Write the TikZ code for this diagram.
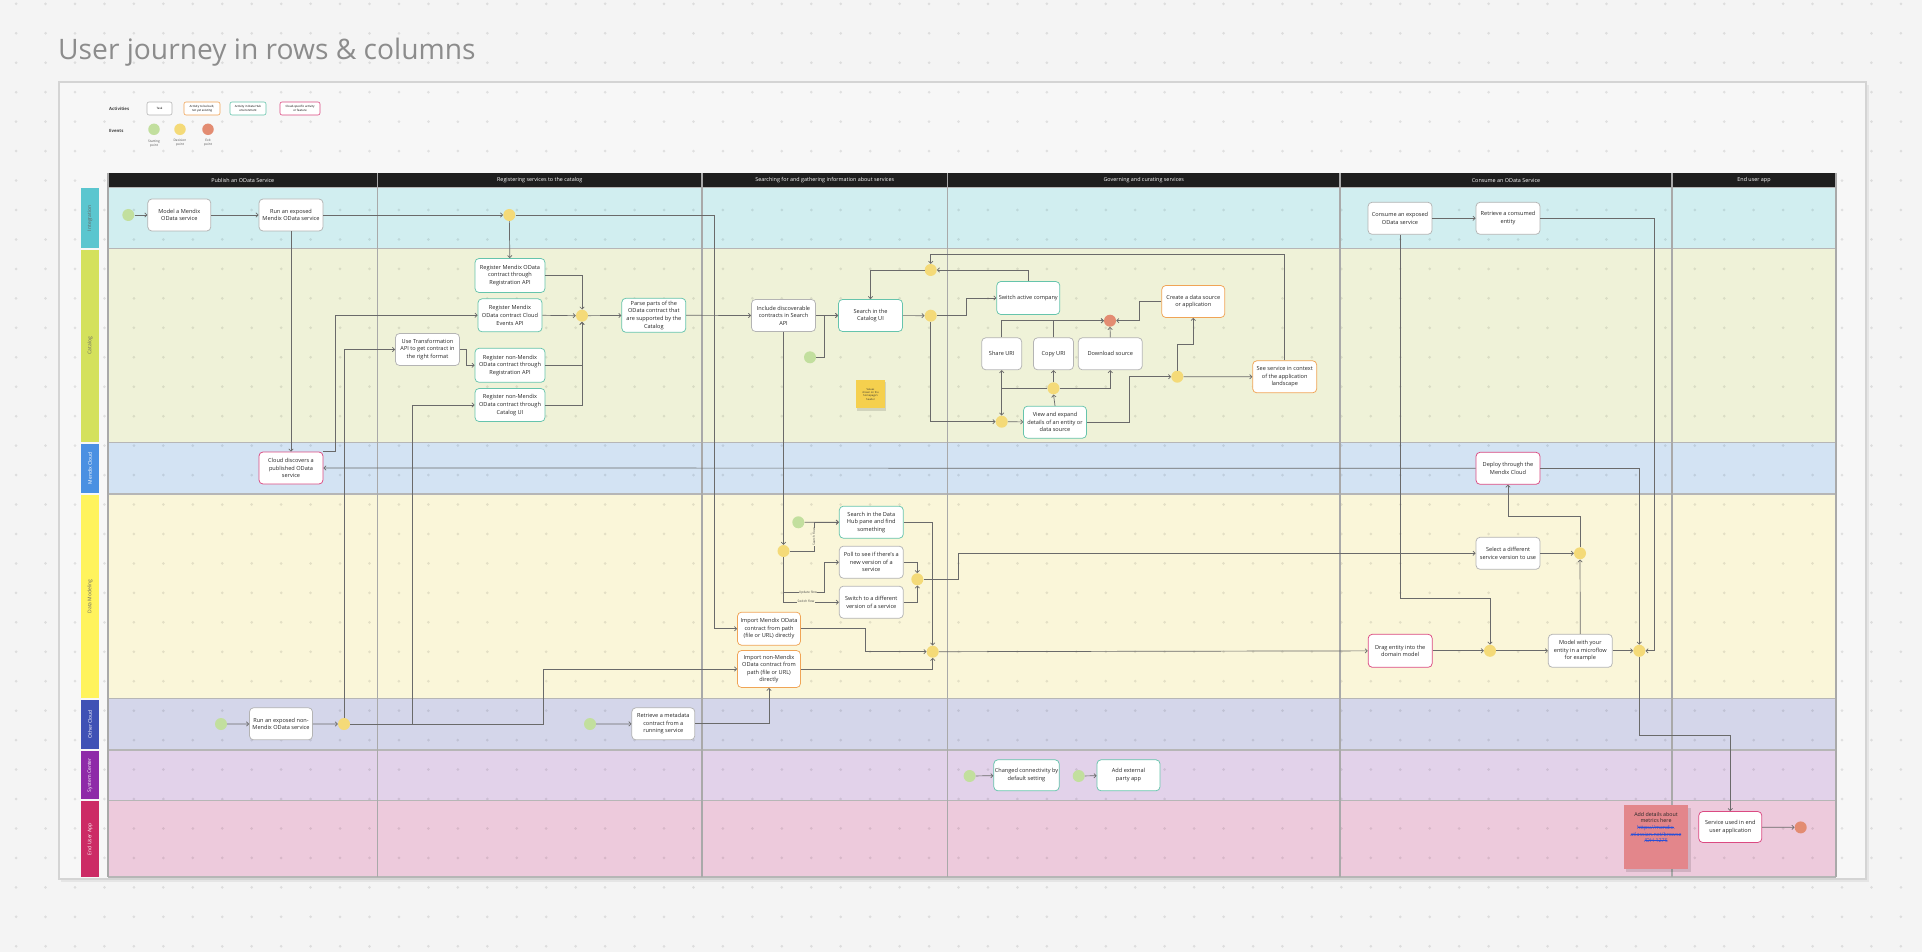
\documentclass[tikz,border=0pt]{standalone}
\usepackage{fontspec}
\setmainfont{Open Sans}
\usetikzlibrary{arrows.meta}

\definecolor{bgcol}{HTML}{F4F4F4}
\definecolor{framebg}{HTML}{F7F7F7}
\definecolor{titlegray}{HTML}{8C8C8C}
\definecolor{headbar}{HTML}{1E1E1E}
\definecolor{gridgray}{HTML}{A9A9A9}
\definecolor{linegray}{HTML}{6A6A6A}
\definecolor{taskgray}{HTML}{B4B4B4}
\definecolor{actorange}{HTML}{F0A456}
\definecolor{actteal}{HTML}{66C4AC}
\definecolor{actpink}{HTML}{DB4A82}
\definecolor{evgreen}{HTML}{C2DF9E}
\definecolor{evyellow}{HTML}{F4DA78}
\definecolor{evred}{HTML}{E38C72}
\definecolor{laneA}{HTML}{D1EEF0}
\definecolor{laneB}{HTML}{EFF2D8}
\definecolor{laneC}{HTML}{D3E3F3}
\definecolor{laneD}{HTML}{FAF6D9}
\definecolor{laneE}{HTML}{D4D6EA}
\definecolor{laneF}{HTML}{E2D2EA}
\definecolor{laneG}{HTML}{EDCADC}
\definecolor{tagA}{HTML}{5BC6CF}
\definecolor{tagB}{HTML}{D4E15C}
\definecolor{tagC}{HTML}{4A90E2}
\definecolor{tagD}{HTML}{FFF35C}
\definecolor{tagE}{HTML}{3F51B5}
\definecolor{tagF}{HTML}{8E2AA8}
\definecolor{tagG}{HTML}{CC2B65}
\definecolor{stickyyellow}{HTML}{F5D04E}
\definecolor{stickypink}{HTML}{E3868B}
\definecolor{linkblue}{HTML}{2A4FD6}

\newcommand\bxfont{\fontsize{5.6}{7.6}\selectfont}
\newcommand\hdfont{\fontsize{5.4}{6}\selectfont}
\newcommand\lanefont{\fontsize{5}{6}\selectfont}
\newcommand\tnyfont{\fontsize{3.2}{3.8}\selectfont}
\newcommand\lgfont{\fontsize{2.9}{3.6}\selectfont}

\tikzset{
  box/.style={draw, fill=white, rounded corners=4pt, line width=0.75pt, align=center,
    inner sep=1pt, minimum width=64pt, minimum height=32pt, font=\bxfont, text=black!85},
  task/.style={box, draw=taskgray},
  newact/.style={box, draw=actorange},
  hubact/.style={box, draw=actteal},
  cloudact/.style={box, draw=actpink},
  lgbox/.style={draw, fill=white, rounded corners=2pt, line width=0.6pt, align=center,
    inner sep=0.5pt, minimum height=13pt, font=\lgfont},
  startpt/.style={circle, fill=evgreen, minimum size=12pt, inner sep=0pt},
  decpt/.style={circle, fill=evyellow, minimum size=12pt, inner sep=0pt},
  exitpt/.style={circle, fill=evred, minimum size=12pt, inner sep=0pt},
  conn/.style={draw=linegray, line width=0.7pt, -{Straight Barb[length=2.2pt,width=4.4pt]}},
  flowlabel/.style={font=\tnyfont, fill=laneD, inner sep=0.4pt, text=black!70},
  lanetag/.style={rotate=90, font=\lanefont},
  headtext/.style={font=\hdfont, text=white},
}

\begin{document}
\begin{tikzpicture}[x=1pt,y=-1pt]
\fill[bgcol] (0,0) rectangle (1922,952);
\useasboundingbox (0,0) rectangle (1922,952);

% title
\node[anchor=base west, inner sep=0pt, font=\fontsize{28.2}{30}\selectfont, text=titlegray] (title) at (58,60) {User journey in rows \& columns};

% board
\fill[black!10] (61,85) rectangle (1869,882);
\draw[fill=framebg, draw=black!17, line width=1.2pt] (59,82) rectangle (1866,879);

% lanes
\fill[laneA] (108,187.5) rectangle (1836,248.8);
\fill[laneB] (108,248.8) rectangle (1836,442.5);
\fill[laneC] (108,442.5) rectangle (1836,494);
\fill[laneD] (108,494) rectangle (1836,698.7);
\fill[laneE] (108,698.7) rectangle (1836,750);
\fill[laneF] (108,750) rectangle (1836,800.4);
\fill[laneG] (108,800.4) rectangle (1836,877);

% dotted board grid
\foreach \i in {-2,...,63} {
  \foreach \j in {-1,...,31} {
    \fill[black, fill opacity=0.09] (75+29.45*\i, 33.3+29.45*\j) circle (1.5pt);
  }
}

% header bar
\fill[headbar] (108,173) rectangle (1836,187.5);
\node[headtext] (h1) at (242.75,180.2) {Publish an OData Service};
\node[headtext] (h2) at (539.75,180.2) {Registering services to the catalog};
\node[headtext] (h3) at (824.75,180.2) {Searching for and gathering information about services};
\node[headtext] (h4) at (1143.75,180.2) {Governing and curating services};
\node[headtext] (h5) at (1506,180.2) {Consume an OData Service};
\node[headtext] (h6) at (1754,180.2) {End user app};

% lane borders and column rules
\foreach \y in {187.5,248.8,442.5,494,698.7,750,800.4,877}
  \draw[gridgray!85, line width=1.1pt] (108,\y) -- (1836,\y);
\foreach \x in {108,377.5,702,947.5,1340,1672,1836}
  \draw[gridgray, line width=1.2pt] (\x,173) -- (\x,877);

% lane tags
\fill[tagA] (81,188.5) rectangle (99,247.8);
\fill[tagB] (81,249.8) rectangle (99,441.5);
\fill[tagC] (81,443.5) rectangle (99,493);
\fill[tagD] (81,495) rectangle (99,697.7);
\fill[tagE] (81,699.7) rectangle (99,749);
\fill[tagF] (81,751) rectangle (99,799.4);
\fill[tagG] (81,801.4) rectangle (99,877);
\node[lanetag, text=black!60] (tA) at (90,218.2) {Integration};
\node[lanetag, text=black!60] (tB) at (90,345.6) {Catalog};
\node[lanetag, text=white] (tC) at (90,468.2) {Mendix Cloud};
\node[lanetag, text=black!60] (tD) at (90,596.3) {Data Modeling};
\node[lanetag, text=white] (tE) at (90,724.3) {Other Cloud};
\node[lanetag, text=white] (tF) at (90,775.2) {System Center};
\node[lanetag, text=white] (tG) at (90,839.2) {End User App};

% legend
\node[anchor=west, inner sep=0pt, font=\fontsize{4.3}{5}\selectfont\bfseries, text=black!75] (lgA) at (109,108.5) {Activities};
\node[anchor=west, inner sep=0pt, font=\fontsize{4.3}{5}\selectfont\bfseries, text=black!75] (lgE) at (109,130.5) {Events};
\node[lgbox, draw=taskgray, minimum width=25pt] (lg1) at (159.5,108.5) {Task};
\node[lgbox, draw=actorange, minimum width=36pt] (lg2) at (202,108.5) {Activity to be built,\\not yet existing};
\node[lgbox, draw=actteal, minimum width=36pt] (lg3) at (248,108.5) {Activity in Data Hub\\environment};
\node[lgbox, draw=actpink, minimum width=40pt] (lg4) at (300,108.5) {Cloud-specific activity\\or feature};
\node[startpt, minimum size=11.5pt] (lgs) at (154,129.3) {};
\node[decpt, minimum size=11.5pt] (lgd) at (180,129.3) {};
\node[exitpt, minimum size=11.5pt] (lgx) at (208,129.3) {};
\node[font=\tnyfont, align=center, text=black!70] (lgs2) at (154,143.5) {Starting\\point};
\node[font=\tnyfont, align=center, text=black!70] (lgd2) at (180,143) {Decision\\point};
\node[font=\tnyfont, align=center, text=black!70] (lgx2) at (208,143) {Exit\\point};

% ---------------- nodes ----------------
% Integration
\node[startpt] (s1) at (128.3,215) {};
\node[task, minimum width=63pt] (n1) at (179.3,215) {Model a Mendix\\OData service};
\node[task] (n2) at (291,215) {Run an exposed\\Mendix OData service};
\node[decpt] (d0) at (509.3,215) {};
\node[task] (c1) at (1400,218.3) {Consume an exposed\\OData service};
\node[task] (c2) at (1508,218.3) {Retrieve a consumed\\entity};

% Catalog
\node[hubact, minimum width=70pt, minimum height=34pt] (r1) at (510,275.5) {Register Mendix OData\\contract through\\Registration API};
\node[hubact, minimum height=33pt] (r2) at (510,315.3) {Register Mendix\\OData contract Cloud\\Events API};
\node[task] (ut) at (427.5,349.5) {Use Transformation\\API to get contract in\\the right format};
\node[hubact, minimum width=70pt, minimum height=34pt] (r3) at (510,365.3) {Register non-Mendix\\OData contract through\\Registration API};
\node[hubact, minimum width=70pt, minimum height=33pt] (r4) at (510,405) {Register non-Mendix\\OData contract through\\Catalog UI};
\node[decpt] (dr) at (582,315.7) {};
\node[hubact, minimum height=34pt] (pp) at (653.8,315.3) {Parse parts of the\\OData contract that\\are supported by the\\Catalog};
\node[task] (inc) at (783.5,315.5) {Include discoverable\\contracts in Search\\API};
\node[startpt] (s2) at (810,357.3) {};
\node[hubact] (sc) at (870.5,315.5) {Search in the\\Catalog UI};
\node[decpt] (dt) at (930.7,270) {};
\node[decpt] (dm) at (930.7,315.7) {};
\node[hubact, minimum width=63pt, minimum height=33pt] (sw) at (1028.3,298) {Switch active company};
\node[exitpt] (ex1) at (1110,320.7) {};
\node[task, minimum width=40pt] (su) at (1001.7,353.8) {Share URI};
\node[task, minimum width=40pt] (cu) at (1053.5,353.8) {Copy URI};
\node[task] (dsrc) at (1110.3,353.8) {Download source};
\node[newact, minimum width=63pt] (cr) at (1193.3,301.5) {Create a data source\\or application};
\node[newact] (ss) at (1284.7,376.8) {See service in context\\of the application\\landscape};
\node[decpt] (dv) at (1053.5,388.3) {};
\node[decpt] (dl) at (1001.7,421.7) {};
\node[hubact, minimum width=63pt] (vw) at (1055,422.2) {View and expand\\details of an entity or\\data source};
\node[decpt] (dk) at (1177.3,376.7) {};

% sticky note in the catalog lane
\fill[black, fill opacity=0.12] (857,382) rectangle (886,410.5);
\node[fill=stickyyellow, minimum width=29pt, minimum height=28.3pt, inner sep=0pt, align=center, font=\fontsize{2.6}{3.3}\selectfont, text=black!80] (note1) at (870.5,394.2) {Values\\shown on the\\homepage's\\header};

% Mendix Cloud
\node[cloudact] (cd) at (291,468) {Cloud discovers a\\published OData\\service};
\node[cloudact] (dp) at (1508,468.3) {Deploy through the\\Mendix Cloud};

% Data Modeling
\node[decpt] (dy) at (783.5,551) {};
\node[startpt] (s3) at (798.3,522.3) {};
\node[hubact] (sh) at (871.3,522.2) {Search in the Data\\Hub pane and find\\something};
\node[task] (pl) at (871.3,562.2) {Poll to see if there's a\\new version of a\\service};
\node[task] (swv) at (871.3,602.2) {Switch to a different\\version of a service};
\node[decpt] (dq) at (917.3,579.3) {};
\node[newact, minimum width=63pt, minimum height=33pt] (im) at (769,628.7) {Import Mendix OData\\contract from path\\(file or URL) directly};
\node[newact, minimum width=63pt, minimum height=37pt] (inm) at (769,669) {Import non-Mendix\\OData contract from\\path (file or URL)\\directly};
\node[decpt] (dj) at (932.7,651.7) {};
\node[task] (se) at (1508,553.3) {Select a different\\service version to use};
\node[decpt] (dse) at (1580,553.3) {};
\node[cloudact, minimum height=33pt] (dg) at (1400.2,650.8) {Drag entity into the\\domain model};
\node[decpt] (dd) at (1490,650.8) {};
\node[task, minimum height=33pt] (mw) at (1580.3,650.8) {Model with your\\entity in a microflow\\for example};
\node[decpt] (df) at (1639.3,650.8) {};

% Other Cloud
\node[startpt] (s4) at (221,724) {};
\node[task, minimum width=63pt] (ro) at (281,723.8) {Run an exposed non-\\Mendix OData service};
\node[decpt] (do) at (344,724) {};
\node[startpt] (s5) at (590,724) {};
\node[task, minimum width=63pt] (rm) at (663.3,723.8) {Retrieve a metadata\\contract from a\\running service};

% System Center
\node[startpt] (s6) at (969.6,776) {};
\node[hubact, minimum width=63pt, minimum height=31pt] (cc) at (1026.5,775.3) {Changed connectivity by\\default setting};
\node[startpt] (s7) at (1078.7,776) {};
\node[hubact, minimum width=63pt, minimum height=31pt] (ae) at (1128.5,775.3) {Add external\\party app};

% End User App
\fill[black, fill opacity=0.12] (1626,808) rectangle (1691,872);
\node[fill=stickypink, minimum width=64pt, minimum height=64pt, inner sep=1pt] (note2) at (1656,837) {};
\node[anchor=north, inner sep=0pt, align=center, font=\fontsize{5.3}{6.6}\selectfont, text=black!85] (note2t) at (1656,812) {Add details about\\metrics here\\{\color{linkblue}https://mendix.}\\{\color{linkblue}atlassian.net/browse}\\{\color{linkblue}/DH-1275}};
\draw[linkblue, line width=0.3pt] (1638,827.2) -- (1674,827.2) (1631,833.8) -- (1681,833.8) (1645,840.4) -- (1667,840.4);
\node[cloudact, minimum width=63pt, minimum height=31pt] (su2) at (1730.3,827) {Service used in end\\user application};
\node[exitpt] (ex2) at (1800.7,827.4) {};

% ---------------- connectors ----------------
\draw[conn] (s1) -- (n1);
\draw[conn] (n1) -- (n2);
\draw[conn] (n2) -- (d0);
\draw[conn] (d0) -- (r1);
\draw[conn] (d0.east) -- (714.3,215) |- (im.west);
\draw[conn] (n2.south) -- (cd.north);
\draw[conn] (cd.north east) -| (335.3,315.3) -- (r2.west);
\draw[conn] (dp.west) -- (cd.east);

\draw[conn] (s4) -- (ro);
\draw[conn] (ro) -- (do);
\draw[conn] (do.north) |- (ut.west);
\draw[conn] (do.east) -- (412.3,724) |- (r4.west);
\draw[conn] (do.east) -- (543.3,724) |- (inm.west);
\draw[conn] (s5) -- (rm);
\draw[conn] (rm.east) -| (inm.south);

\draw[conn] (ut.east) -- (466.7,349.5) |- (r3.west);
\draw[conn] (r1.east) -| (dr.north);
\draw[conn] (r2.east) -- (dr.west);
\draw[conn] (r3.east) -| (dr.south);
\draw[conn] (r4.east) -| (dr.south);
\draw[conn] (dr) -- (pp);
\draw[conn] (pp.east) -- (inc.west);
\draw[conn] (inc) -- (sc);
\draw[conn] (s2.east) -- (824.3,357.3) |- (sc.west);
\draw[conn] (inc.south) -- (dy.north);
\draw[conn] (sc) -- (dm);
\draw[conn] (dt.west) -| (sc.north);
\draw[conn] (dm.east) -- (966,315.7) |- (sw.west);
\draw[conn] (dm.south) |- (dl.west);
\draw[conn] (sw.north) |- (dt.east);
\draw[conn] (ss.north) -- (1284.7,254.3) -| (dt.north);
\draw[conn] (dl) -- (vw);
\draw[conn] (vw.north) -- (dv.south);
\draw[conn] (dv.north) -- (cu.south);
\draw[conn] (dv.west) -| (su.south);
\draw[conn] (dv.west) -| (dl.north);
\draw[conn] (dv.east) -| (dsrc.south);
\draw[conn] (su.north) |- (ex1.west);
\draw[conn] (cu.north) |- (ex1.west);
\draw[conn] (dsrc.north) -- (ex1.south);
\draw[conn] (cr.west) -- (1139,301.5) |- (ex1.east);
\draw[conn] (vw.east) -- (1129.3,422.2) |- (dk.west);
\draw[conn] (dk.north) -- (1177.3,344) -| (cr.south);
\draw[conn] (dk) -- (ss);

\draw[conn] (s3) -- (sh.west);
\draw[conn] (dy.east) -- (814,551) |- (sh.west);
\draw[conn] (dy.south) |- (swv.west);
\draw[conn] (dy.south) -- (783.5,592.3) -- (824.3,592.3) |- (pl.west);
\node[flowlabel, rotate=90] (lbs) at (814,537) {Search flow};
\node[flowlabel] (lbu) at (808,592.3) {Update flow};
\node[flowlabel] (lbw) at (806,601.3) {Switch flow};
\draw[conn] (pl.east) -| (dq.north);
\draw[conn] (swv.east) -| (dq.south);
\draw[conn] (dq.east) -- (958.3,579.3) |- (se.west);
\draw[conn] (sh.east) -| (dj.north);
\draw[conn] (im.east) -- (865,628.7) |- (dj.west);
\draw[conn] (inm.east) -| (dj.south);
\draw[conn] (dj) -- (dg);
\draw[conn] (se) -- (dse);
\draw[conn] (dse.north) -- (1580,516) -| (dp.south);
\draw[conn] (mw.north) -- (dse.south);
\draw[conn] (dg) -- (dd);
\draw[conn] (dd) -- (mw);
\draw[conn] (mw) -- (df);
\draw[conn] (c1) -- (c2);
\draw[conn] (c1.south) -- (1400,598.3) -| (dd.north);
\draw[conn] (c2.east) -- (1654.3,218.3) |- (df.east);
\draw[conn] (dp.east) -| (df.north);
\draw[conn] (df.south) -- (1639.3,735.5) -| (su2.north);
\draw[conn] (su2) -- (ex2);

\draw[conn] (s6) -- (cc);
\draw[conn] (s7) -- (ae);
\end{tikzpicture}
\end{document}
